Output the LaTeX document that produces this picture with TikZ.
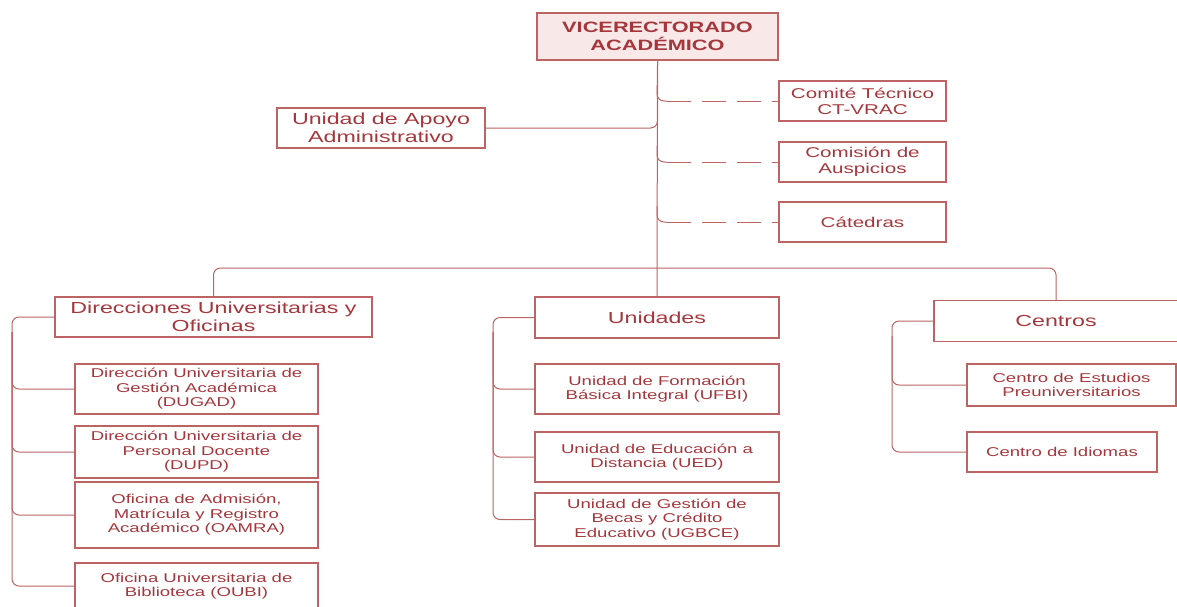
\documentclass[tikz,border=0pt]{standalone}
\usepackage{fontspec}
\setmainfont[FakeStretch=1.45]{Liberation Sans}
\usetikzlibrary{calc}
\definecolor{tc}{RGB}{165,55,60}
\definecolor{lc}{RGB}{188,100,100}
\definecolor{vrfill}{RGB}{248,232,232}
\begin{document}
\begin{tikzpicture}[x=1pt,y=-1pt,
  box/.style={draw=lc, line width=1.1pt, text=tc, align=center, inner sep=0pt},
  big/.style={font=\fontsize{16}{18}\selectfont},
  mid/.style={font=\fontsize{14.2}{16}\selectfont},
  small/.style={font=\fontsize{12.8}{14.5}\selectfont},
  conn/.style={draw=lc, line width=1pt, rounded corners=7pt},
  dashconn/.style={draw=lc, line width=1pt, dash pattern=on 24pt off 11pt}]
\useasboundingbox (0,0) rectangle (1177,606);

% top
\node[box, fill=vrfill, font=\fontsize{15}{18}\selectfont\bfseries, minimum width=241pt, minimum height=47pt] (vr) at (657.5,36.5) {VICERECTORADO\\ACADÉMICO};
\node[box, big, minimum width=208pt, minimum height=40pt] (apoyo) at (381,128) {Unidad de Apoyo\\Administrativo};
\node[box, mid, minimum width=167pt, minimum height=40pt] (com) at (862.5,101) {Comité Técnico\\CT-VRAC};
\node[box, mid, minimum width=167pt, minimum height=40pt] (aus) at (862.5,162) {Comisión de\\Auspicios};
\node[box, mid, minimum width=167pt, minimum height=40pt] (cat) at (862.5,222) {Cátedras};

% level 2
\node[box, big, minimum width=317pt, minimum height=40pt] (dir) at (213.5,317) {Direcciones Universitarias y\\Oficinas};
\node[box, big, minimum width=244pt, minimum height=41pt] (uni) at (657,317.5) {Unidades};
\node[box, big, minimum width=244pt, minimum height=41pt] (cen) at (1056,321) {Centros};

% direcciones
\node[box, small, minimum width=243pt, minimum height=50pt] (dugad) at (196.5,389) {Dirección Universitaria de\\Gestión Académica\\(DUGAD)};
\node[box, small, minimum width=243pt, minimum height=52pt] (dupd) at (196.5,452) {Dirección Universitaria de\\Personal Docente\\(DUPD)};
\node[box, small, minimum width=243pt, minimum height=66pt] (oamra) at (196.5,515) {Oficina de Admisión,\\Matrícula y Registro\\Académico (OAMRA)};
\node[box, small, minimum width=243pt, minimum height=46pt] (oubi) at (196.5,586) {Oficina Universitaria de\\Biblioteca (OUBI)};

% unidades
\node[box, small, minimum width=244pt, minimum height=50pt] (ufbi) at (657,389) {Unidad de Formación\\Básica Integral (UFBI)};
\node[box, small, minimum width=244pt, minimum height=50pt] (ued) at (657,457) {Unidad de Educación a\\Distancia (UED)};
\node[box, small, minimum width=244pt, minimum height=53pt] (ugbce) at (657,519.5) {Unidad de Gestión de\\Becas y Crédito\\Educativo (UGBCE)};

% centros
\node[box, small, minimum width=209pt, minimum height=42pt] (cepre) at (1071.5,385) {Centro de Estudios\\Preuniversitarios};
\node[box, small, minimum width=190pt, minimum height=40pt] (idi) at (1062,452) {Centro de Idiomas};

% trunk and bus
\coordinate (bus) at (657,268);
\draw[conn] (vr.south) -- (uni.north);
\draw[conn] (apoyo.east) -| (vr.south);
\draw[conn] (dir.north) |- (bus) -| (cen.north);

% dashed staff links
\coordinate (t1) at (657,85);  \coordinate (e1) at (667,101);
\coordinate (t2) at (657,146); \coordinate (e2) at (667,162);
\coordinate (t3) at (657,206); \coordinate (e3) at (667,222);
\draw[conn] (t1) |- (e1); \draw[dashconn] (e1) -- (com.west);
\draw[conn] (t2) |- (e2); \draw[dashconn] (e2) -- (aus.west);
\draw[conn] (t3) |- (e3); \draw[dashconn] (e3) -- (cat.west);

% direcciones bracket
\coordinate (dx) at (12,0);
\coordinate (dxt) at (12,332);
\draw[conn] (dir.west) -| (dx |- oubi.west) -- (oubi.west);
\draw[conn] (dxt) |- (dugad.west);
\draw[conn] (dxt) |- (dupd.west);
\draw[conn] (dxt) |- (oamra.west);

% unidades bracket
\coordinate (ux) at (493,0);
\coordinate (uxt) at (493,332);
\draw[conn] (uni.west) -| (ux |- ugbce.west) -- (ugbce.west);
\draw[conn] (uxt) |- (ufbi.west);
\draw[conn] (uxt) |- (ued.west);

% centros bracket
\coordinate (cx) at (892,0);
\coordinate (cxt) at (892,336);
\draw[conn] (cen.west) -| (cx |- idi.west) -- (idi.west);
\draw[conn] (cxt) |- (cepre.west);
\end{tikzpicture}
\end{document}
